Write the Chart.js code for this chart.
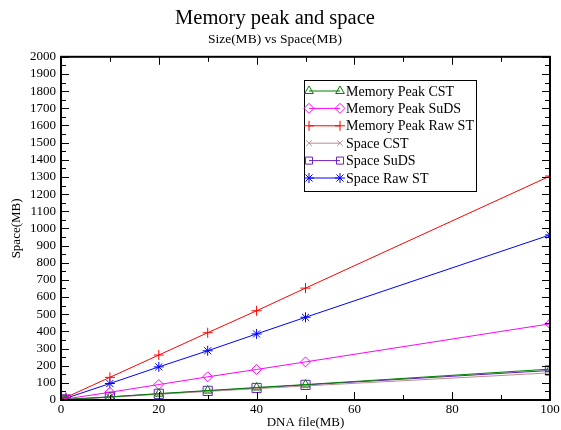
<!DOCTYPE html>
<html>
<head>
<meta charset="utf-8">
<script src="https://cdn.jsdelivr.net/npm/chart.js@4.4.1/dist/chart.umd.min.js"></script>
<style>
html,body{margin:0;padding:0;background:#fff;}
#wrap{width:561px;height:430px;}
</style>
</head>
<body>
<div id="wrap"><canvas id="c" width="561" height="430"></canvas></div>
<script>
const sizes = [0, 1, 10, 20, 30, 40, 50, 100];
const memPeakCST = [1, 3, 18, 37, 55, 73, 90, 180];
const memPeakSuDS = [2, 6, 45, 90, 135, 178, 222, 444];
const memPeakRawST = [3, 15, 132, 262, 392, 520, 652, 1305];
const spaceCST = [1, 2, 16, 33, 50, 66, 82, 158];
const spaceSuDS = [1, 3, 18, 36, 53, 70, 88, 172];
const spaceRawST = [2, 10, 96, 193, 287, 385, 482, 962];
const seriesNames = ['Memory Peak CST','Memory Peak SuDS','Memory Peak Raw ST','Space CST','Space SuDS','Space Raw ST'];
const xTicks = [0, 20, 40, 60, 80, 100];
const yMax = 2000;

const FONT = "'Liberation Serif', 'DejaVu Serif', serif";
const styles = [
  {c:'#008000', p:'triangle', r:5},
  {c:'#ff00ff', p:'rectRot', r:5},
  {c:'#ff0000', p:'cross', r:5},
  {c:'#bc8f8f', p:'crossRot', r:4},
  {c:'#6a20c0', p:'rect', r:6.5},
  {c:'#0000ff', p:'star', r:5}
];
const allSeries = [memPeakCST, memPeakSuDS, memPeakRawST, spaceCST, spaceSuDS, spaceRawST];

const datasets = allSeries.map((vals, i) => ({
  label: seriesNames[i],
  data: sizes.map((x, j) => ({x: x, y: vals[j]})),
  borderColor: styles[i].c,
  backgroundColor: 'rgba(0,0,0,0)',
  borderWidth: 1,
  pointStyle: styles[i].p,
  pointRadius: styles[i].r,
  pointBorderColor: styles[i].c,
  pointBackgroundColor: 'rgba(0,0,0,0)',
  pointBorderWidth: 1,
  showLine: true,
  tension: 0
}));

const framePlugin = {
  id: 'frame',
  afterDatasetsDraw(chart) {
    const ctx = chart.ctx, a = chart.chartArea;
    const xs = chart.scales.x, ys = chart.scales.y;
    ctx.save();
    ctx.strokeStyle = '#000';
    ctx.lineWidth = 1;
    ctx.beginPath();
    for (let v = 0; v <= 100; v += 10) {
      const px = Math.round(xs.getPixelForValue(v)) + 0.5;
      const len = (v % 20 === 0) ? 8 : 5;
      ctx.moveTo(px, a.bottom); ctx.lineTo(px, a.bottom - len);
      ctx.moveTo(px, a.top); ctx.lineTo(px, a.top + len);
    }
    for (let v = 0; v <= yMax; v += 50) {
      const py = Math.round(ys.getPixelForValue(v)) + 0.5;
      const len = (v % 100 === 0) ? 8 : 5;
      ctx.moveTo(a.left, py); ctx.lineTo(a.left + len, py);
      ctx.moveTo(a.right, py); ctx.lineTo(a.right - len, py);
    }
    ctx.stroke();
    ctx.lineWidth = 2;
    ctx.strokeRect(a.left, a.top, a.right - a.left, a.bottom - a.top);

    // legend
    const lx = 304, ly = 80, lw = 172, lh = 111;
    ctx.lineWidth = 1;
    ctx.strokeStyle = '#000';
    ctx.fillStyle = '#fff';
    ctx.fillRect(lx + 0.5, ly + 0.5, lw, lh);
    ctx.strokeRect(lx + 0.5, ly + 0.5, lw, lh);
    ctx.font = "14px " + FONT;
    ctx.textBaseline = 'middle';
    ctx.textAlign = 'left';
    seriesNames.forEach((name, i) => {
      const y = ly + 11 + i * 17.4;
      const s = styles[i];
      ctx.strokeStyle = s.c;
      ctx.lineWidth = 1;
      ctx.beginPath();
      ctx.moveTo(309, y); ctx.lineTo(340, y);
      ctx.stroke();
      ctx.fillStyle = 'rgba(0,0,0,0)';
      const opts = {pointStyle: s.p, radius: Math.min(s.r, 5), rotation: 0, borderWidth: 1};
      Chart.helpers.drawPoint(ctx, opts, 309, y);
      Chart.helpers.drawPoint(ctx, opts, 340, y);
      ctx.fillStyle = '#000';
      ctx.fillText(name, 346, y + 1);
    });
    ctx.restore();
  }
};

new Chart(document.getElementById('c'), {
  type: 'scatter',
  data: {datasets},
  plugins: [framePlugin],
  options: {
    responsive: false,
    animation: false,
    layout: {padding: {left: 0, right: 11, top: 5, bottom: 0}},
    plugins: {
      legend: {display: false},
      tooltip: {enabled: false},
      title: {display: true, text: 'Memory peak and space', color: '#000',
        font: {family: FONT, size: 20.5, weight: 'normal'}, padding: {top: 1, bottom: 0}},
      subtitle: {display: true, text: 'Size(MB) vs Space(MB)', color: '#000',
        font: {family: FONT, size: 13.5, weight: 'normal'}, padding: {top: 1, bottom: 9}}
    },
    scales: {
      x: {
        type: 'linear', min: 0, max: 100,
        afterBuildTicks(scale) { scale.ticks = xTicks.map(v => ({value: v})); },
        afterFit(scale) { scale.height = 30; scale.paddingLeft = 0; scale.paddingRight = 0; },
        grid: {display: false, drawTicks: false},
        border: {display: false},
        ticks: {color: '#000', font: {family: FONT, size: 13}, padding: 2, maxRotation: 0,
          callback: v => String(v)},
        title: {display: true, text: 'DNA file(MB)', color: '#000', font: {family: FONT, size: 13}, padding: {top: 2, bottom: 0}}
      },
      y: {
        type: 'linear', min: 0, max: yMax,
        ticks: {stepSize: 100, color: '#000', font: {family: FONT, size: 13}, padding: 5, autoSkip: false,
          callback: v => String(v)},
        afterFit(scale) { scale.width = 61; },
        grid: {display: false, drawTicks: false},
        border: {display: false},
        title: {display: true, text: 'Space(MB)', color: '#000', font: {family: FONT, size: 13}, padding: {top: 9, bottom: 0}}
      }
    }
  }
});
</script>
</body>
</html>
